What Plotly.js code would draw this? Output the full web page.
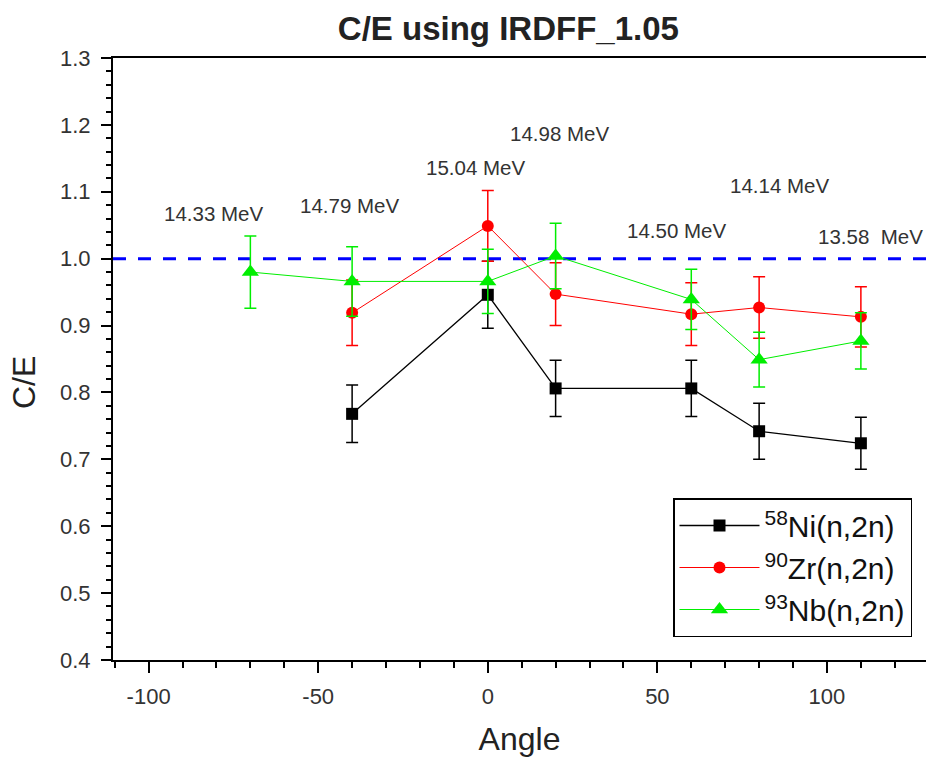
<!DOCTYPE html>
<html>
<head>
<meta charset="utf-8">
<script src="https://cdn.plot.ly/plotly-3.0.1.min.js"></script>
<style>html,body{margin:0;padding:0;background:#fff;}#chart{width:926px;height:758px;}</style>
</head>
<body>
<div id="chart"></div>
<script>
// ---- data ----
const niAngles = [-40, 0, 20, 60, 80, 110];
const niCE  = [0.768, 0.946, 0.806, 0.806, 0.742, 0.724];
const niErr = [0.043, 0.050, 0.042, 0.042, 0.042, 0.039];
const zrAngles = [-40, 0, 20, 60, 80, 110];
const zrCE  = [0.919, 1.049, 0.947, 0.917, 0.927, 0.913];
const zrErr = [0.049, 0.053, 0.047, 0.047, 0.046, 0.045];
const nbAngles = [-70, -40, 0, 20, 60, 80, 110];
const nbCE  = [0.980, 0.966, 0.966, 1.004, 0.939, 0.849, 0.877];
const nbErr = [0.054, 0.052, 0.048, 0.049, 0.045, 0.041, 0.042];
const seriesNames = ['<sup>58</sup>Ni(n,2n)', '<sup>90</sup>Zr(n,2n)', '<sup>93</sup>Nb(n,2n)'];
const energyLabels = ['14.33 MeV', '14.79 MeV', '15.04 MeV', '14.98 MeV', '14.50 MeV', '14.14 MeV', '13.58\u00a0 MeV'];
const labelAngle = [-81.0, -40.7, -3.5, 21.2, 55.6, 86.0, 112.8];
const labelCE = [1.067, 1.079, 1.136, 1.187, 1.042, 1.109, 1.033];
const xTickVals = [-100, -50, 0, 50, 100];
const xTickText = ['-100', '-50', '0', '50', '100'];
const referenceCE = 1.0;

const FONT = '"Liberation Sans", Arial, Helvetica, sans-serif';

function series(x, y, err, name, color, symbol, size, lw) {
  return {
    type: 'scatter', mode: 'lines+markers', x: x, y: y, name: name,
    line: {color: color, width: lw},
    marker: {color: color, symbol: symbol, size: size},
    error_y: {type: 'data', array: err, visible: true, color: color, thickness: 1.5, width: 6}
  };
}

const traces = [
  series(niAngles, niCE, niErr, seriesNames[0], '#000000', 'square', 12, 1.3),
  series(zrAngles, zrCE, zrErr, seriesNames[1], '#ff0000', 'circle', 12, 1),
  series(nbAngles, nbCE, nbErr, seriesNames[2], '#00ee00', 'triangle-up', 15, 1)
];

const annotations = energyLabels.map((t, i) => ({
  x: labelAngle[i], y: labelCE[i], xref: 'x', yref: 'y', text: t, showarrow: false,
  font: {family: FONT, size: 20.5, color: '#333333'}, xanchor: 'center', yanchor: 'middle'
}));
annotations.push({
  xref: 'paper', yref: 'paper', x: (24 - 113) / 813, y: (660 - 383) / 602,
  text: 'C/E', textangle: -90, showarrow: false, xanchor: 'center', yanchor: 'middle',
  font: {family: FONT, size: 32, color: '#222222'}
});

const layout = {
  width: 926, height: 758,
  margin: {l: 113, r: 0, t: 58, b: 98, pad: 0},
  paper_bgcolor: '#ffffff', plot_bgcolor: '#ffffff',
  font: {family: FONT, color: '#333333'},
  title: {text: '<b>C/E using IRDFF_1.05</b>', x: 0.549, xanchor: 'center', y: 1 - 28 / 758, yanchor: 'middle', yref: 'container',
          font: {family: FONT, size: 33, color: '#222222'}},
  xaxis: {
    range: [-110.5, 129.2], showgrid: false, zeroline: false,
    showline: true, linecolor: '#000', linewidth: 2, mirror: true,
    ticks: 'outside', ticklen: 11, tickwidth: 2, tickcolor: '#000',
    tickmode: 'array', tickvals: xTickVals, ticktext: xTickText,
    tickfont: {family: FONT, size: 22, color: '#333333'},
    ticklabelstandoff: 5,
    minor: {dtick: 10, tick0: 0, ticks: 'outside', ticklen: 6, tickwidth: 2, tickcolor: '#000'},
    title: {text: 'Angle', standoff: 19, font: {family: FONT, size: 32, color: '#222222'}}
  },
  yaxis: {
    range: [0.4, 1.3], showgrid: false, zeroline: false,
    showline: true, linecolor: '#000', linewidth: 2, mirror: false,
    ticks: 'outside', ticklen: 10, tickwidth: 2, tickcolor: '#000',
    tick0: 0.4, dtick: 0.1, tickformat: '.1f', tickfont: {family: FONT, size: 22, color: '#333333'},
    ticklabelstandoff: 6,
    minor: {dtick: 0.02, tick0: 0.4, ticks: 'outside', ticklen: 5, tickwidth: 2, tickcolor: '#000'}
  },
  shapes: [{
    type: 'line', xref: 'paper', x0: 0, x1: 1, yref: 'y', y0: referenceCE, y1: referenceCE,
    line: {color: '#0000ff', width: 3, dash: '13px,12px'}, layer: 'below'
  }],
  annotations: annotations,
  showlegend: true,
  legend: {
    x: (673 - 113) / 813, y: (660 - 498) / 602, xanchor: 'left', yanchor: 'top',
    bgcolor: '#ffffff', bordercolor: '#000', borderwidth: 1.5,
    font: {family: FONT, size: 30, color: '#111111'}, itemwidth: 80, tracegroupgap: 0
  }
};

Plotly.newPlot('chart', traces, layout, {displayModeBar: false, staticPlot: true});
</script>
</body>
</html>
